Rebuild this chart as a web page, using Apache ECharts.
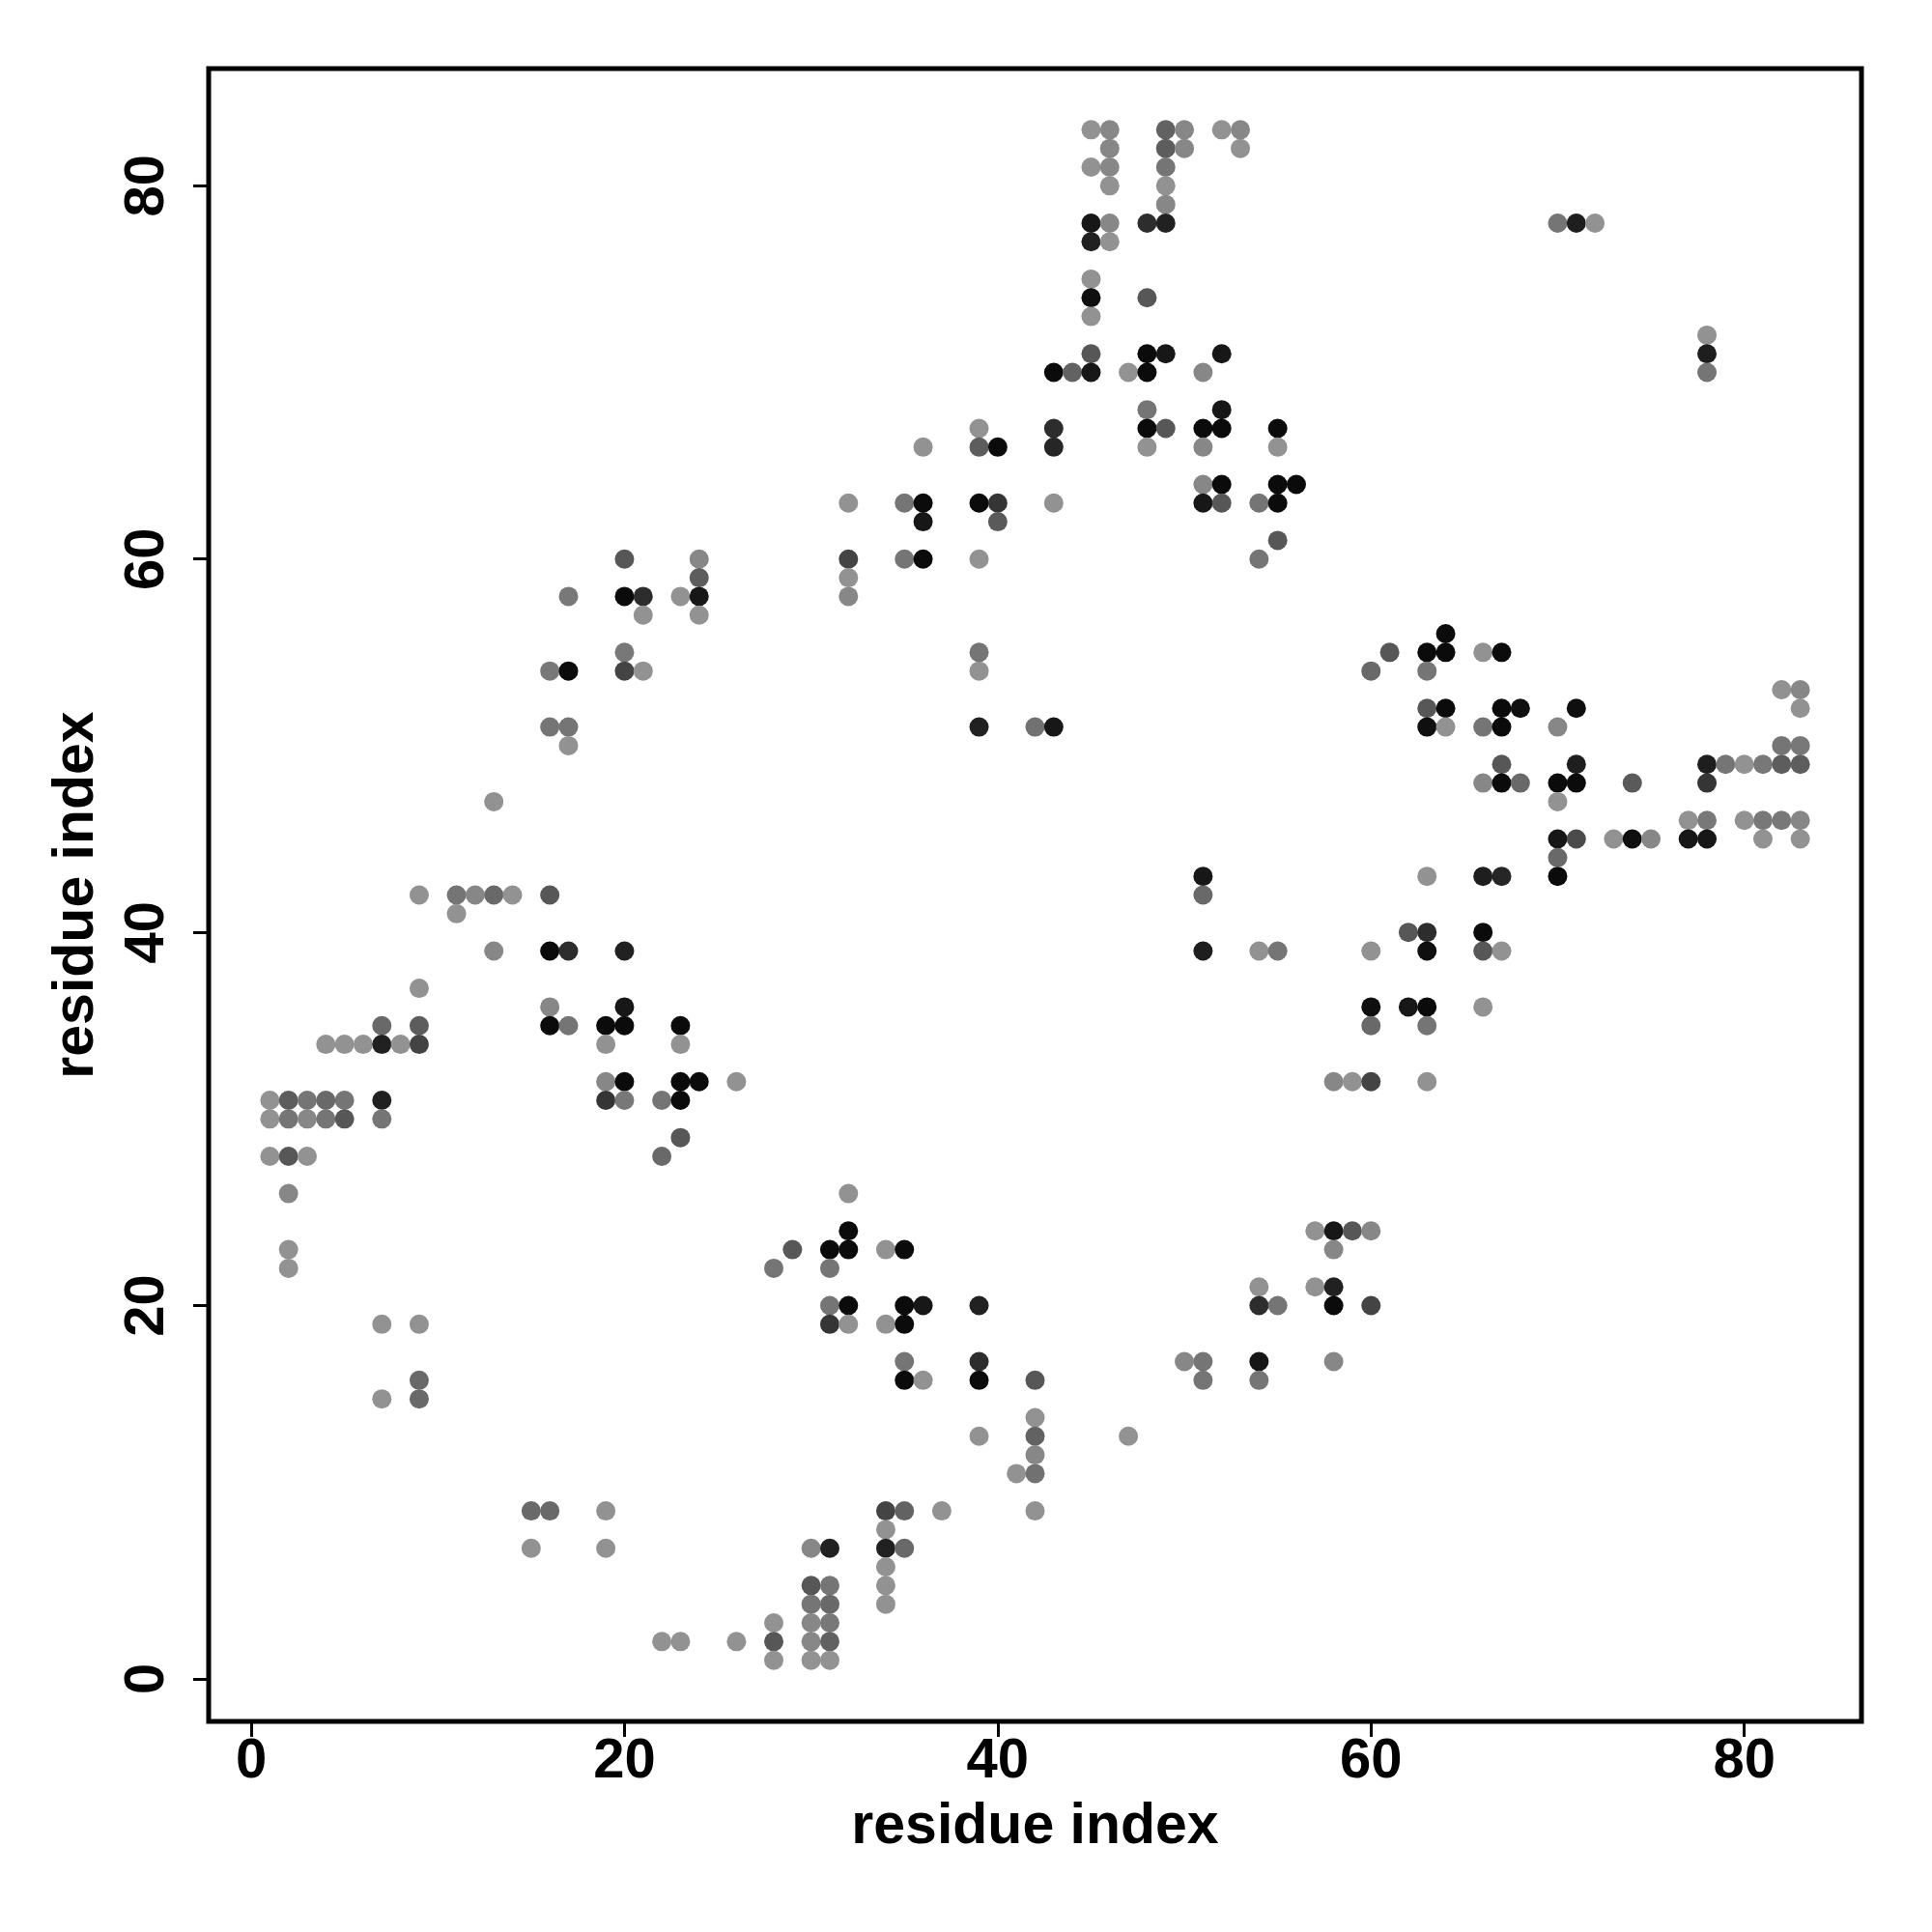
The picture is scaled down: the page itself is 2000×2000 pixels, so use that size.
<!DOCTYPE html>
<html>
<head>
<meta charset="utf-8">
<script src="https://cdn.jsdelivr.net/npm/echarts@6/dist/echarts.min.js"></script>
<style>html,body{margin:0;padding:0;background:#fff}#chart{width:2000px;height:2000px}</style>
</head>
<body>
<div id="chart"></div>
<script>
// residue i (x), residue j (y), contact strength (0 = light grey, 1 = black)
const resI = [
  1,1,1,
  2,2,2,2,2,2,
  3,3,3,
  4,4,4,
  5,5,5,
  6,
  7,7,7,7,7,7,
  8,
  9,9,9,9,9,9,9,
  11,11,
  12,
  13,13,13,
  14,
  15,15,
  16,16,16,16,16,16,16,
  17,17,17,17,17,17,
  19,19,19,19,19,19,
  20,20,20,20,20,20,20,20,20,
  21,21,21,
  22,22,22,
  23,23,23,23,23,23,23,
  24,24,24,24,24,
  26,26,
  28,28,28,28,
  29,
  30,30,30,30,30,30,
  31,31,31,31,31,31,31,31,31,31,
  32,32,32,32,32,32,32,32,32,
  34,34,34,34,34,34,34,34,
  35,35,35,35,35,35,35,35,35,
  36,36,36,36,36,36,
  37,
  39,39,39,39,39,39,39,39,39,39,39,
  40,40,40,
  41,
  42,42,42,42,42,42,42,
  43,43,43,43,43,
  44,
  45,45,45,45,45,45,45,45,45,
  46,46,46,46,46,46,
  47,47,
  48,48,48,48,48,48,48,
  49,49,49,49,49,49,49,49,
  50,50,50,
  51,51,51,51,51,51,51,51,51,51,
  52,52,52,52,52,52,
  53,53,
  54,54,54,54,54,54,54,
  55,55,55,55,55,55,55,
  56,
  57,57,
  58,58,58,58,58,58,
  59,59,
  60,60,60,60,60,60,60,
  61,
  62,62,
  63,63,63,63,63,63,63,63,63,63,
  64,64,64,64,
  66,66,66,66,66,66,66,
  67,67,67,67,67,67,67,
  68,68,
  70,70,70,70,70,70,70,
  71,71,71,71,71,
  72,
  73,
  74,74,
  75,
  77,77,
  78,78,78,78,78,78,78,
  79,
  80,80,
  81,81,81,
  82,82,82,82,
  83,83,83,83,83,83
];
const resJ = [
  31,30,28,
  31,30,28,26,23,22,
  31,30,28,
  34,31,30,
  34,31,30,
  34,
  35,34,31,30,19,15,
  34,
  42,37,35,34,19,16,15,
  42,41,
  42,
  47,42,39,
  42,
  9,7,
  54,51,42,39,36,35,9,
  58,54,51,50,39,35,
  35,34,32,31,9,7,
  60,58,55,54,39,36,35,32,31,
  58,57,54,
  31,28,2,
  58,35,34,32,31,29,2,
  60,59,58,57,32,
  32,2,
  22,3,2,1,
  23,
  7,5,4,3,2,1,
  23,22,20,19,7,5,4,3,2,1,
  63,60,59,58,26,24,23,20,19,
  23,19,9,8,7,6,5,4,
  63,60,23,20,19,17,16,9,7,
  66,63,62,60,20,16,
  9,
  67,66,63,60,55,54,51,20,17,16,13,
  66,63,62,
  11,
  51,16,14,13,12,11,9,
  70,67,66,63,51,
  70,
  83,81,78,77,75,74,73,71,70,
  83,82,81,80,78,77,
  70,13,
  78,74,71,70,68,67,66,
  83,82,81,80,79,78,71,67,
  83,82,17,
  70,67,66,64,63,43,42,39,17,16,
  83,71,68,67,64,63,
  83,82,
  63,60,39,21,20,17,16,
  67,66,64,63,61,39,20,
  64,
  24,21,
  32,24,23,21,20,17,
  32,24,
  54,39,36,35,32,24,20,
  55,
  40,36,
  55,54,52,51,43,40,39,36,35,32,
  56,55,52,51,
  55,51,48,43,40,39,36,
  55,52,51,49,48,43,39,
  52,48,
  78,51,48,47,45,44,43,
  78,52,49,48,45,
  78,
  45,
  48,45,
  45,
  46,45,
  72,71,70,49,48,46,45,
  49,
  49,46,
  49,46,45,
  53,50,49,46,
  53,52,50,49,46,45
];
const strength = [
  .03,.03,.03,
  .38,.22,.42,.10,.03,.03,
  .22,.10,.03,
  .03,.30,.22,
  .03,.22,.42,
  .03,
  .30,.78,.78,.22,.03,.03,
  .03,
  .03,.03,.38,.55,.03,.30,.30,
  .22,.03,
  .10,
  .03,.30,.10,
  .03,
  .30,.03,
  .20,.22,.42,.93,.10,.93,.30,
  .20,.93,.22,.03,.70,.22,
  .93,.03,.10,.65,.03,.03,
  .42,.93,.20,.55,.78,.85,.93,.93,.20,
  .70,.03,.03,
  .22,.30,.03,
  .03,.93,.03,.93,.93,.42,.03,
  .10,.38,.85,.03,.93,
  .03,.03,
  .22,.03,.42,.03,
  .42,
  .10,.42,.22,.10,.10,.03,
  .93,.22,.22,.65,.78,.22,.30,.20,.35,.03,
  .03,.55,.03,.10,.03,.93,.93,.93,.03,
  .03,.03,.55,.03,.78,.03,.03,.03,
  .22,.22,.93,.93,.93,.22,.93,.35,.30,
  .03,.93,.85,.93,.85,.03,
  .03,
  .03,.38,.93,.03,.22,.03,.78,.78,.70,.93,.03,
  .93,.65,.40,
  .03,
  .25,.42,.03,.35,.10,.25,.03,
  .93,.70,.75,.03,.85,
  .35,
  .03,.03,.85,.78,.03,.90,.03,.42,.85,
  .10,.10,.10,.03,.10,.03,
  .03,.03,
  .70,.42,.93,.93,.22,.93,.03,
  .35,.38,.22,.03,.10,.78,.85,.42,
  .10,.10,.10,
  .10,.93,.10,.10,.85,.85,.30,.80,.22,.22,
  .03,.85,.85,.93,.93,.42,
  .10,.03,
  .22,.22,.03,.03,.70,.85,.22,
  .93,.03,.93,.93,.42,.22,.22,
  .93,
  .03,.03,
  .10,.85,.10,.78,.93,.10,
  .03,.42,
  .30,.03,.90,.30,.55,.10,.55,
  .42,
  .42,.85,
  .93,.22,.42,.90,.03,.70,.90,.93,.22,.03,
  .93,.93,.93,.03,
  .03,.22,.10,.80,.93,.42,.03,
  .93,.93,.93,.42,.93,.75,.03,
  .90,.30,
  .22,.10,.93,.03,.85,.30,.93,
  .80,.90,.80,.93,.50,
  .03,
  .03,
  .40,.90,
  .10,
  .03,.85,
  .03,.80,.22,.80,.65,.20,.85,
  .22,
  .03,.03,
  .20,.20,.03,
  .03,.22,.38,.20,
  .10,.03,.20,.38,.10,.03
];
const tickValues = [0, 20, 40, 60, 80];
const axisTitle = 'residue index';

const points = resI.map((x, k) => [x, resJ[k], strength[k]]);
const fontFam = '"Liberation Sans", Arial, Helvetica, sans-serif';

const chart = echarts.init(document.getElementById('chart'), null, {renderer: 'canvas'});
chart.setOption({
  animation: false,
  backgroundColor: '#ffffff',
  grid: {
    left: 216, top: 71, width: 1711, height: 1711,
    show: true, borderColor: '#000', borderWidth: 5, backgroundColor: 'transparent'
  },
  visualMap: {
    show: false, type: 'continuous', min: 0, max: 1, dimension: 2,
    inRange: {color: ['#969696', '#000000']}
  },
  xAxis: {
    type: 'value', min: -2.28, max: 86.28,
    axisLine: {show: false, onZero: false},
    splitLine: {show: false},
    axisTick: {show: true, customValues: tickValues, length: 16, inside: false, lineStyle: {color: '#000', width: 3}},
    axisLabel: {customValues: tickValues, fontSize: 58, fontWeight: 'bold', color: '#000', margin: 13, fontFamily: fontFam},
    name: axisTitle, nameLocation: 'middle', nameGap: 80,
    nameTextStyle: {fontSize: 59, fontWeight: 'bold', color: '#000', fontFamily: fontFam}
  },
  yAxis: {
    type: 'value', min: -2.28, max: 86.28,
    axisLine: {show: false, onZero: false},
    splitLine: {show: false},
    axisTick: {show: true, customValues: tickValues, length: 16, inside: false, lineStyle: {color: '#000', width: 3}},
    axisLabel: {customValues: tickValues, rotate: 90, fontSize: 58, fontWeight: 'bold', color: '#000', margin: 34, fontFamily: fontFam},
    name: axisTitle, nameLocation: 'middle', nameGap: 107, nameRotate: 90,
    nameTextStyle: {fontSize: 59, fontWeight: 'bold', color: '#000', fontFamily: fontFam}
  },
  series: [{
    type: 'scatter',
    data: points,
    symbol: 'circle',
    symbolSize: 20,
    itemStyle: {opacity: 1}
  }]
});
</script>
</body>
</html>
